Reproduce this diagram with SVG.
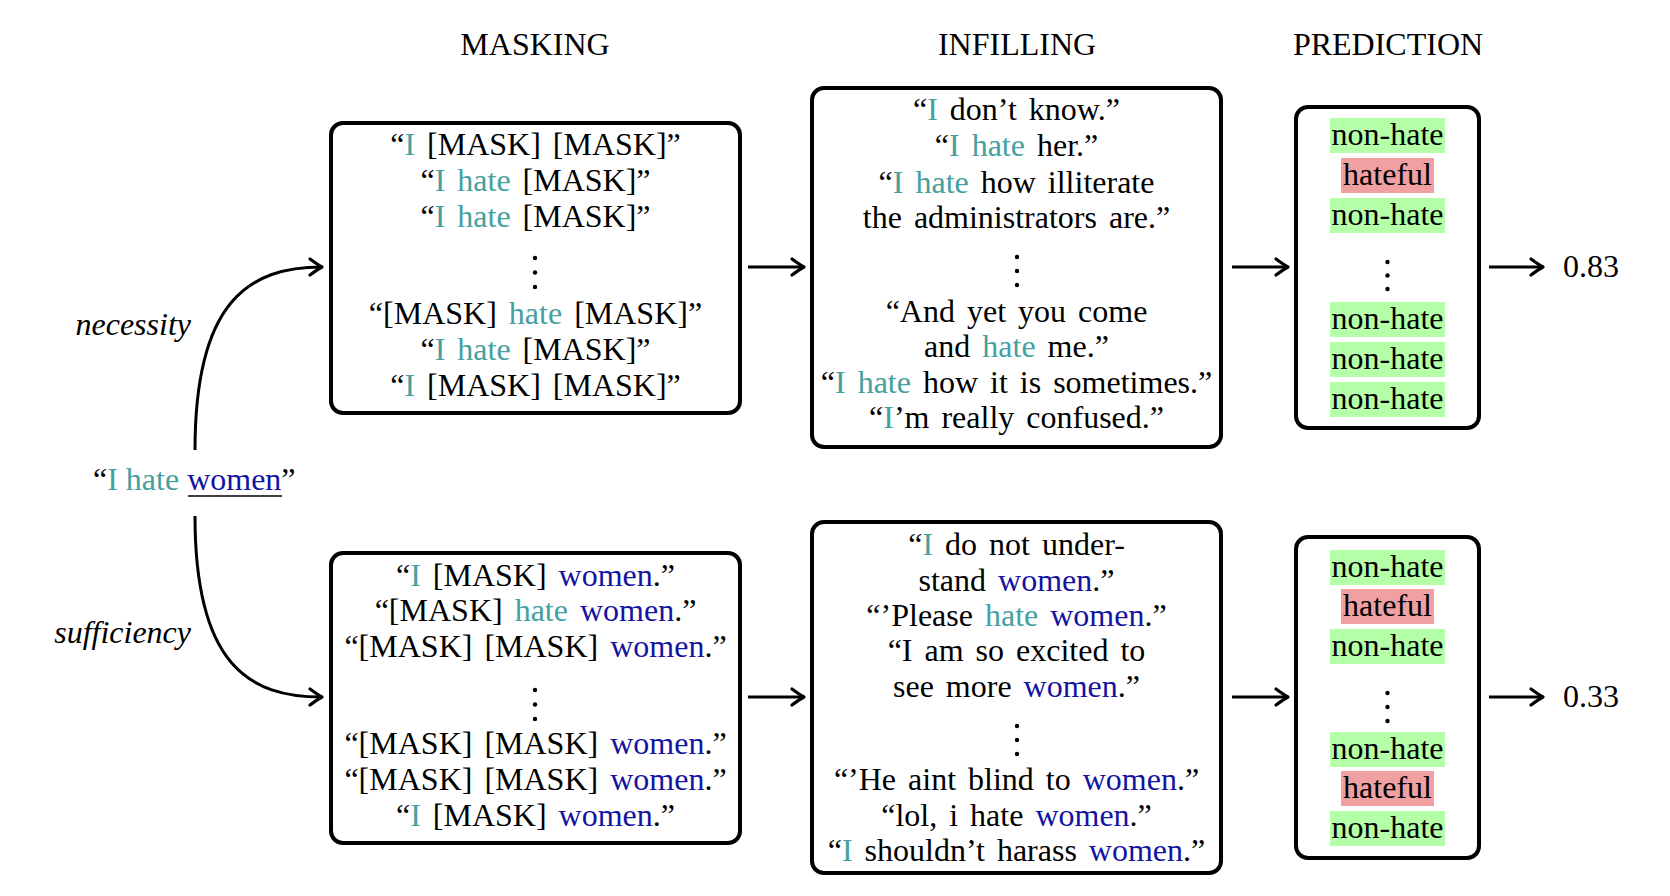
<svg xmlns="http://www.w3.org/2000/svg" width="1670" height="896" viewBox="0 0 1670 896">
<style>
text{font-family:"Liberation Serif","Times New Roman",serif;font-size:32px;fill:#000}
.c{text-anchor:middle;word-spacing:4px}
.it{font-style:italic}
.t{fill:#45a0a0}
.b{fill:#1414a0}
.box{fill:#fff;stroke:#000;stroke-width:4}
.g{fill:#b4ffa8}
.r{fill:#f0a0a0}
.conn{fill:none;stroke:#000;stroke-width:3}
.dot{fill:#000}
</style>
<defs>
<marker id="ah" markerUnits="userSpaceOnUse" viewBox="-14 -10 16 20" refX="0" refY="0" markerWidth="16" markerHeight="20" orient="auto" overflow="visible">
<path d="M-12,-8 Q-3.5,-1.8 0,0 Q-3.5,1.8 -12,8" fill="none" stroke="#000" stroke-width="3.2" stroke-linecap="round" stroke-linejoin="round"/>
</marker>
</defs>
<rect width="1670" height="896" fill="#fff"/>

<g id="titles">
<text class="c" x="535" y="55">MASKING</text>
<text class="c" x="1017" y="55">INFILLING</text>
<text class="c" x="1388" y="55">PREDICTION</text>
</g>

<g id="input">
<text x="93" y="490">“<tspan class="t">I hate</tspan> <tspan class="b">women</tspan>”</text>
<line x1="188" y1="496" x2="282" y2="496" stroke="#000" stroke-width="1.6"/>
</g>

<g id="labels">
<text class="it" x="191" y="335" text-anchor="end">necessity</text>
<text class="it" x="191" y="643" text-anchor="end">sufficiency</text>
</g>

<g id="connectors">
<path class="conn" d="M195,450 C195,300 250,267 322,267" marker-end="url(#ah)"/>
<path class="conn" d="M195,516 C195,666 250,697 322,697" marker-end="url(#ah)"/>
<line class="conn" x1="748" y1="267" x2="804" y2="267" marker-end="url(#ah)"/>
<line class="conn" x1="1232" y1="267" x2="1288" y2="267" marker-end="url(#ah)"/>
<line class="conn" x1="1489" y1="267" x2="1543" y2="267" marker-end="url(#ah)"/>
<line class="conn" x1="748" y1="697" x2="804" y2="697" marker-end="url(#ah)"/>
<line class="conn" x1="1232" y1="697" x2="1288" y2="697" marker-end="url(#ah)"/>
<line class="conn" x1="1489" y1="697" x2="1543" y2="697" marker-end="url(#ah)"/>
</g>

<g id="masking-necessity">
<rect class="box" x="331" y="123" width="409" height="290" rx="12"/>
<text class="c" x="535.5" y="155">“<tspan class="t">I</tspan> [MASK] [MASK]”</text>
<text class="c" x="535.5" y="191">“<tspan class="t">I hate</tspan> [MASK]”</text>
<text class="c" x="535.5" y="227">“<tspan class="t">I hate</tspan> [MASK]”</text>
<circle class="dot" cx="535" cy="258" r="2.2"/><circle class="dot" cx="535" cy="272.5" r="2.2"/><circle class="dot" cx="535" cy="287" r="2.2"/>
<text class="c" x="535.5" y="324">“[MASK] <tspan class="t">hate</tspan> [MASK]”</text>
<text class="c" x="535.5" y="360">“<tspan class="t">I hate</tspan> [MASK]”</text>
<text class="c" x="535.5" y="396">“<tspan class="t">I</tspan> [MASK] [MASK]”</text>
</g>

<g id="infilling-necessity">
<rect class="box" x="812" y="88" width="409" height="359" rx="12"/>
<text class="c" x="1016.5" y="120">“<tspan class="t">I</tspan> don’t know.”</text>
<text class="c" x="1016.5" y="156">“<tspan class="t">I hate</tspan> her.”</text>
<text class="c" x="1016.5" y="193">“<tspan class="t">I hate</tspan> how illiterate</text>
<text class="c" x="1016.5" y="228">the administrators are.”</text>
<circle class="dot" cx="1017" cy="257" r="2.2"/><circle class="dot" cx="1017" cy="271" r="2.2"/><circle class="dot" cx="1017" cy="285" r="2.2"/>
<text class="c" x="1016.5" y="322">“And yet you come</text>
<text class="c" x="1016.5" y="357">and <tspan class="t">hate</tspan> me.”</text>
<text class="c" x="1016.5" y="393">“<tspan class="t">I hate</tspan> how it is sometimes.”</text>
<text class="c" x="1016.5" y="428">“<tspan class="t">I</tspan>’m really confused.”</text>
</g>

<g id="prediction-necessity">
<rect class="box" x="1296" y="107" width="183" height="321" rx="12"/>
<rect class="g" x="1330" y="118" width="115" height="35"/>
<text class="c" x="1387.5" y="145">non-hate</text>
<rect class="r" x="1341" y="158" width="93" height="35"/>
<text class="c" x="1387.5" y="185">hateful</text>
<rect class="g" x="1330" y="198" width="115" height="35"/>
<text class="c" x="1387.5" y="225">non-hate</text>
<circle class="dot" cx="1387.5" cy="262" r="2.2"/><circle class="dot" cx="1387.5" cy="275.5" r="2.2"/><circle class="dot" cx="1387.5" cy="289" r="2.2"/>
<rect class="g" x="1330" y="302" width="115" height="35"/>
<text class="c" x="1387.5" y="329">non-hate</text>
<rect class="g" x="1330" y="342" width="115" height="35"/>
<text class="c" x="1387.5" y="369">non-hate</text>
<rect class="g" x="1330" y="382" width="115" height="35"/>
<text class="c" x="1387.5" y="409">non-hate</text>
</g>

<g id="score-necessity">
<text x="1563" y="277">0.83</text>
</g>

<g id="masking-sufficiency">
<rect class="box" x="331" y="553" width="409" height="290" rx="12"/>
<text class="c" x="535.5" y="586">“<tspan class="t">I</tspan> [MASK] <tspan class="b">women</tspan>.”</text>
<text class="c" x="535.5" y="621">“[MASK] <tspan class="t">hate</tspan> <tspan class="b">women</tspan>.”</text>
<text class="c" x="535.5" y="657">“[MASK] [MASK] <tspan class="b">women</tspan>.”</text>
<circle class="dot" cx="535" cy="690" r="2.2"/><circle class="dot" cx="535" cy="704.5" r="2.2"/><circle class="dot" cx="535" cy="719" r="2.2"/>
<text class="c" x="535.5" y="754">“[MASK] [MASK] <tspan class="b">women</tspan>.”</text>
<text class="c" x="535.5" y="790">“[MASK] [MASK] <tspan class="b">women</tspan>.”</text>
<text class="c" x="535.5" y="826">“<tspan class="t">I</tspan> [MASK] <tspan class="b">women</tspan>.”</text>
</g>

<g id="infilling-sufficiency">
<rect class="box" x="812" y="522" width="409" height="351" rx="12"/>
<text class="c" x="1016.5" y="555">“<tspan class="t">I</tspan> do not under-</text>
<text class="c" x="1016.5" y="591">stand <tspan class="b">women</tspan>.”</text>
<text class="c" x="1016.5" y="626">“’Please <tspan class="t">hate</tspan> <tspan class="b">women</tspan>.”</text>
<text class="c" x="1016.5" y="661">“I am so excited to</text>
<text class="c" x="1016.5" y="697">see more <tspan class="b">women</tspan>.”</text>
<circle class="dot" cx="1017" cy="726" r="2.2"/><circle class="dot" cx="1017" cy="740" r="2.2"/><circle class="dot" cx="1017" cy="754" r="2.2"/>
<text class="c" x="1016.5" y="790">“’He aint blind to <tspan class="b">women</tspan>.”</text>
<text class="c" x="1016.5" y="826">“lol, i hate <tspan class="b">women</tspan>.”</text>
<text class="c" x="1016.5" y="861">“<tspan class="t">I</tspan> shouldn’t harass <tspan class="b">women</tspan>.”</text>
</g>

<g id="prediction-sufficiency">
<rect class="box" x="1296" y="537" width="183" height="321" rx="12"/>
<rect class="g" x="1330" y="550" width="115" height="35"/>
<text class="c" x="1387.5" y="577">non-hate</text>
<rect class="r" x="1341" y="589" width="93" height="35"/>
<text class="c" x="1387.5" y="616">hateful</text>
<rect class="g" x="1330" y="629" width="115" height="35"/>
<text class="c" x="1387.5" y="656">non-hate</text>
<circle class="dot" cx="1387.5" cy="693" r="2.2"/><circle class="dot" cx="1387.5" cy="707" r="2.2"/><circle class="dot" cx="1387.5" cy="721" r="2.2"/>
<rect class="g" x="1330" y="732" width="115" height="35"/>
<text class="c" x="1387.5" y="759">non-hate</text>
<rect class="r" x="1341" y="771" width="93" height="35"/>
<text class="c" x="1387.5" y="798">hateful</text>
<rect class="g" x="1330" y="811" width="115" height="35"/>
<text class="c" x="1387.5" y="838">non-hate</text>
</g>

<g id="score-sufficiency">
<text x="1563" y="707">0.33</text>
</g>
</svg>
